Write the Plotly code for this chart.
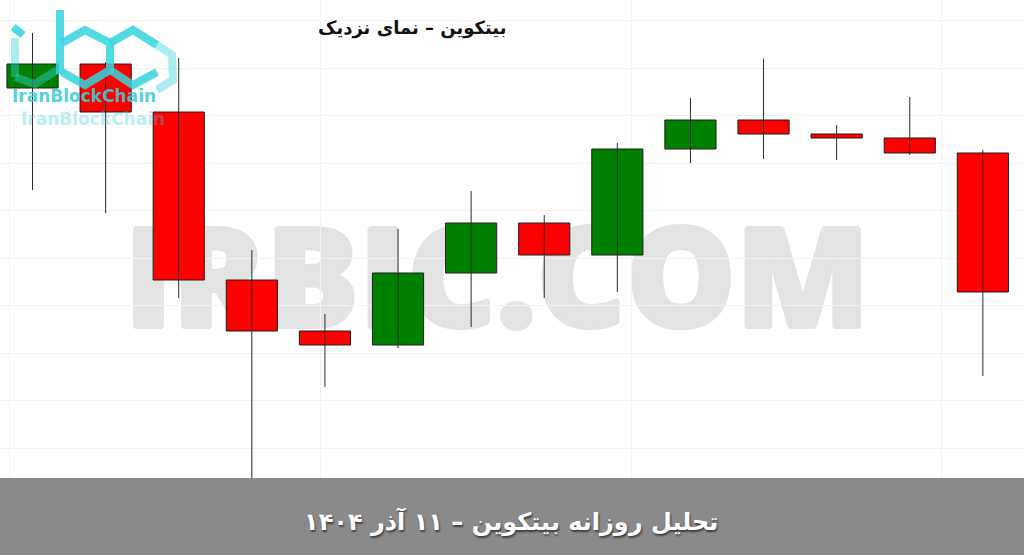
import plotly.graph_objects as go

# ---------------- data ----------------
hours = ["00:00", "01:00", "02:00", "03:00", "04:00", "05:00", "06:00",
         "07:00", "08:00", "09:00", "10:00", "11:00", "12:00", "13:00"]
opens = [91120, 91360, 90880, 89200, 88690, 88550, 89270,
         89770, 89450, 90510, 90800, 90660, 90620, 90470]
highs = [91670, 91380, 91420, 89500, 88860, 89710, 90090,
         89850, 90570, 91020, 91410, 90750, 91030, 90500]
lows = [90100, 89870, 89020, 87100, 88130, 88520, 88730,
        89020, 89080, 90370, 90410, 90400, 90450, 88240]
closes = [91360, 90880, 89200, 88690, 88550, 89270, 89770,
          89450, 90510, 90800, 90660, 90620, 90470, 89080]

title_text = "بیتکوین – نمای نزدیک"
banner_text = "تحلیل روزانه بیتکوین – ۱۱ آذر ۱۴۰۴"
watermark_text = "IRBIC.COM"
logo_text = "IranBlockChain"

UP_COLOR = "#008000"
DOWN_COLOR = "#ff0000"

W, H = 1024, 555
positions = list(range(len(hours)))

fig = go.Figure()

# candle bodies
body_base = [min(o, c) for o, c in zip(opens, closes)]
body_len = [abs(c - o) for o, c in zip(opens, closes)]
body_col = [UP_COLOR if c >= o else DOWN_COLOR for o, c in zip(opens, closes)]
fig.add_trace(go.Bar(
    x=positions, y=body_len, base=body_base, width=0.7,
    marker=dict(color=body_col, line=dict(color="#1e1e1e", width=1)),
    text=hours, hoverinfo="text", textposition="none", showlegend=False,
))

# wicks (drawn over bodies, as in the reference)
wx, wy = [], []
for p, lo, hi in zip(positions, lows, highs):
    wx += [p, p, None]
    wy += [lo, hi, None]
fig.add_trace(go.Scatter(x=wx, y=wy, mode="lines", hoverinfo="skip",
                         line=dict(color="#2a2a2a", width=1), showlegend=False))


def px_path(points, close=False):
    s = "M " + " L ".join(f"{x / W:.5f},{1 - y / H:.5f}" for x, y in points)
    return s + (" Z" if close else "")


wm_col = "#e3e3e3"
wm_shadow = ", ".join(f"{dx}px {dy}px 0 {wm_col}" for dx, dy in
                      [(2, 0), (-2, 0), (0, 2), (0, -2), (1, 1), (-1, -1), (1, -1), (-1, 1)])

shapes = []
# watermark behind candles
shapes.append(dict(
    type="rect", xref="paper", yref="paper", layer="between",
    x0=132 / W, x1=862 / W, y0=1 - 332 / H, y1=1 - 233 / H,
    line=dict(width=0), fillcolor="rgba(0,0,0,0)",
    label=dict(text=watermark_text, textposition="middle center",
               font=dict(family="Open Sans", size=138, color=wm_col, weight=800,
                         shadow=wm_shadow)),
))

# logo (decoration)
logo_col = "rgba(52,212,222,0.85)"
logo_light = "rgba(52,212,222,0.42)"
logo_paths = [
    ([(60, 10), (60, 74)], logo_col),
    ([(62, 43), (85, 30), (110, 43), (110, 70), (85, 85), (62, 72)], logo_col),
    ([(157, 45), (133, 30), (110, 43)], logo_col),
    ([(110, 70), (133, 85), (157, 72)], logo_col),
    ([(157, 45), (172, 55), (173, 80), (157, 90)], logo_light),
    ([(13, 27), (23, 35)], logo_col),
    ([(15, 38), (15, 77)], logo_light),
    ([(15, 77), (35, 84), (57, 70)], logo_light),
]
for pts, col in logo_paths:
    shapes.append(dict(type="path", xref="paper", yref="paper", layer="above",
                       path=px_path(pts), line=dict(color=col, width=8)))

# bottom banner
shapes.append(dict(type="rect", xref="paper", yref="paper", layer="above",
                   x0=0, x1=1, y0=0, y1=1 - 478 / H,
                   line=dict(width=0), fillcolor="#8a8a8a"))

annotations = [
    dict(text=title_text, xref="paper", yref="paper", x=412 / W, y=1 - 28 / H,
         showarrow=False, xanchor="center", yanchor="middle",
         font=dict(family="DejaVu Sans", size=18, color="#111111", weight="bold")),
    dict(text=banner_text, xref="paper", yref="paper", x=511 / W, y=1 - 521 / H,
         showarrow=False, xanchor="center", yanchor="middle",
         font=dict(family="DejaVu Sans", size=24, color="#ffffff", weight="bold",
                   shadow="1px 2px 2px rgba(0,0,0,0.55)")),
    dict(text=logo_text, xref="paper", yref="paper", x=10 / W, y=1 - 96 / H,
         showarrow=False, xanchor="left", yanchor="middle",
         font=dict(family="DejaVu Sans", size=17, color="rgba(60,205,218,0.9)", weight="bold")),
    dict(text=logo_text, xref="paper", yref="paper", x=19 / W, y=1 - 119 / H,
         showarrow=False, xanchor="left", yanchor="middle",
         font=dict(family="DejaVu Sans", size=17, color="rgba(60,205,218,0.35)", weight="bold")),
]

fig.update_layout(
    width=W, height=H, margin=dict(l=0, r=0, t=0, b=0),
    paper_bgcolor="#ffffff", plot_bgcolor="#ffffff",
    shapes=shapes, annotations=annotations, showlegend=False,
    xaxis=dict(range=[-0.445, 13.563], showticklabels=False, ticks="",
               zeroline=False, showgrid=True, gridcolor="#f3f3f3",
               tick0=-0.31, dtick=4.25),
    yaxis=dict(range=[86450, 92000], showticklabels=False, ticks="",
               zeroline=False, showgrid=True, gridcolor="#f3f3f3",
               tick0=90370, dtick=475),
)

fig.write_html("out.html", config={"displayModeBar": False},
               post_script="document.body.style.margin='0';")
